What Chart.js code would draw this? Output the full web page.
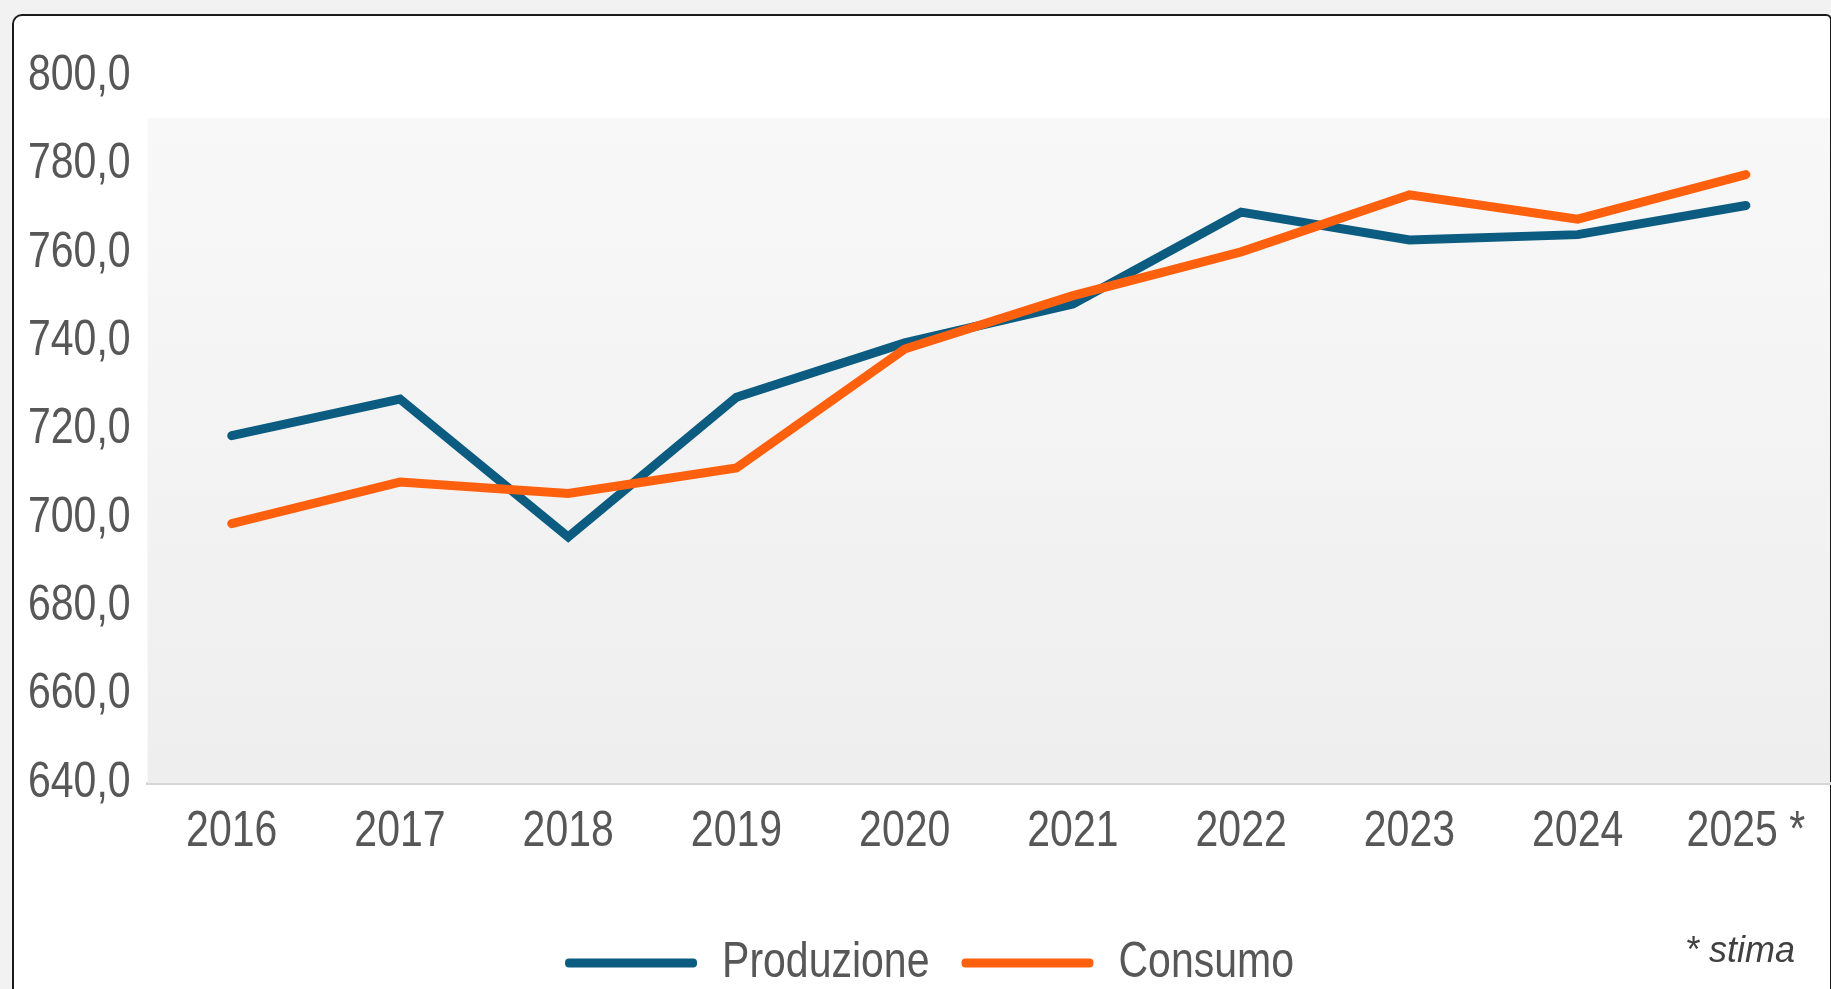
<!DOCTYPE html>
<html>
<head>
<meta charset="utf-8">
<script src="https://cdn.jsdelivr.net/npm/chart.js@4.4.1/dist/chart.umd.min.js"></script>
<style>
  html, body { margin: 0; padding: 0; width: 1831px; height: 989px; overflow: hidden; background: #f2f2f2; }
  .frame { position: absolute; left: 12px; top: 14px; width: 1816px; height: 1100px;
           background: #ffffff; border: 2px solid #1a1a1a; border-radius: 10px 6px 0 0; }
  .wrap { position: absolute; left: 0; top: 0; width: 1831px; height: 989px; overflow: hidden; }
</style>
</head>
<body>
<div class="frame"></div>
<div class="wrap"><canvas id="myChart" width="1831" height="998"></canvas></div>
<script>
const years = ['2016', '2017', '2018', '2019', '2020', '2021', '2022', '2023', '2024', '2025 *'];
const produzione = [718.6, 726.9, 695.7, 727.3, 739.6, 748.4, 769.2, 762.9, 764.1, 770.7];
const consumo = [698.7, 708.1, 705.5, 711.3, 738.2, 750.3, 760.2, 773.1, 767.6, 777.7];
const yMin = 640;
const yMax = 800;
const yStep = 20;
const footnote = '* stima';

const blue = '#0b5c80';
const orange = '#ff600e';
const textGrey = '#575757';
const labelFont = "'Liberation Sans', Arial, sans-serif";
const labelSize = 50;
const squeezeX = 0.82;

let ctx = document.getElementById('myChart').getContext('2d');

// no narrow font on this box, so the big labels get squeezed horizontally
// (measure and draw both, so Chart.js lays them out at the squeezed width)
const plainFill = ctx.fillText.bind(ctx);
const plainMeasure = ctx.measureText.bind(ctx);
const isBig = () => ctx.font.indexOf(labelSize + 'px') !== -1;
ctx.fillText = function (text, x, y, maxWidth) {
  if (!isBig()) return plainFill(text, x, y, maxWidth);
  ctx.save();
  ctx.translate(x, y);
  ctx.scale(squeezeX, 1);
  plainFill(text, 0, 0);
  ctx.restore();
};
ctx.measureText = function (text) {
  const m = plainMeasure(text);
  if (!isBig()) return m;
  return {
    width: m.width * squeezeX,
    actualBoundingBoxAscent: m.actualBoundingBoxAscent,
    actualBoundingBoxDescent: m.actualBoundingBoxDescent,
    actualBoundingBoxLeft: m.actualBoundingBoxLeft * squeezeX,
    actualBoundingBoxRight: m.actualBoundingBoxRight * squeezeX
  };
};

// light grey panel behind the lines, plus the footnote
const panelBg = {
  id: 'panelBg',
  beforeDatasetsDraw(chart) {
    const { ctx, chartArea, scales } = chart;
    const top = scales.y.getPixelForValue(790.5);
    const bottom = chartArea.bottom;
    const g = ctx.createLinearGradient(0, top, 0, bottom);
    g.addColorStop(0, '#f8f8f8');
    g.addColorStop(1, '#eeeeee');
    ctx.save();
    ctx.fillStyle = g;
    ctx.fillRect(chartArea.left, top, chartArea.right - chartArea.left, bottom - top);
    ctx.restore();
  },
  afterDraw(chart) {
    const ctx = chart.ctx;
    ctx.save();
    ctx.font = "italic 36px 'Liberation Sans', Arial, sans-serif";
    ctx.fillStyle = '#404040';
    ctx.textAlign = 'right';
    ctx.textBaseline = 'alphabetic';
    ctx.fillText(footnote, 1795, 962);
    ctx.restore();
  }
};

const config = {
  type: 'line',
  data: {
    labels: years,
    datasets: [{
      label: 'Produzione',
      data: produzione,
      borderColor: blue,
      backgroundColor: blue,
      borderWidth: 9,
      order: 1
    }, {
      label: 'Consumo',
      data: consumo,
      borderColor: orange,
      backgroundColor: orange,
      borderWidth: 9,
      order: 0
    }]
  },
  options: {
    responsive: false,
    animation: false,
    layout: { padding: { left: 29, right: 1, top: 76, bottom: 0 } },
    elements: {
      point: { radius: 0, hoverRadius: 0 },
      line: { tension: 0, borderCapStyle: 'round', borderJoinStyle: 'miter' }
    },
    scales: {
      x: {
        offset: true,
        grid: { display: false, drawTicks: false },
        border: { display: true, color: '#d6d6d6', width: 3 },
        ticks: { color: textGrey, font: { family: labelFont, size: labelSize }, padding: 19, maxRotation: 0 },
        afterFit: s => { s.height += 25; }
      },
      y: {
        min: yMin,
        max: yMax,
        grid: { display: false, drawTicks: false },
        border: { display: false },
        ticks: {
          stepSize: yStep,
          color: textGrey,
          padding: 17,
          font: { family: labelFont, size: labelSize },
          callback: v => v.toFixed(1).replace('.', ',')
        },
        afterFit: s => { s.width -= 18; }
      }
    },
    plugins: {
      tooltip: { enabled: false },
      legend: {
        position: 'bottom',
        labels: {
          color: textGrey,
          font: { family: labelFont, size: labelSize },
          boxWidth: 132,
          boxHeight: 9,
          padding: 32,
          useBorderRadius: true,
          borderRadius: 4,
          sort: (a, b) => a.datasetIndex - b.datasetIndex,
          generateLabels: chart => Chart.defaults.plugins.legend.labels.generateLabels(chart)
            .map(l => Object.assign(l, { lineWidth: 0 }))
        }
      }
    }
  },
  plugins: [panelBg]
};

let myChart = new Chart(ctx, config);
</script>
</body>
</html>
